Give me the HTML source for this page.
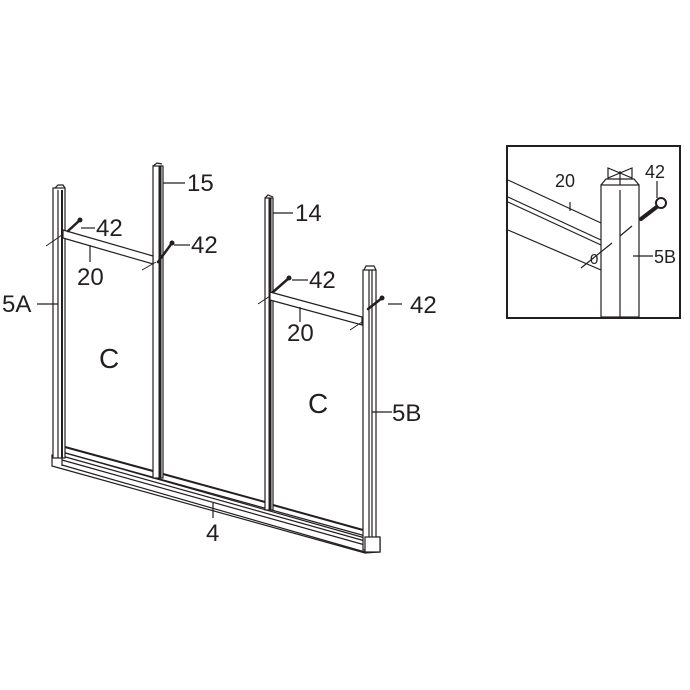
<!DOCTYPE html>
<html><head><meta charset="utf-8"><style>
html,body{margin:0;padding:0;background:#fff}
svg{display:block}
text{font-family:"Liberation Sans",Arial,sans-serif;fill:#231f20}
</style></head><body>
<svg width="690" height="690" viewBox="0 0 690 690" xmlns="http://www.w3.org/2000/svg" stroke="#231f20" fill="none" stroke-width="1.2">
<polygon points="52,455 62,452 380,540 380,552 365,553 52,466" fill="#fff"/>
<line x1="62" y1="452" x2="365" y2="538"/>
<line x1="62" y1="456" x2="365" y2="541"/>
<line x1="62" y1="460" x2="365" y2="545"/>
<line x1="62" y1="465" x2="365" y2="552"/>
<line x1="62" y1="452" x2="62" y2="466"/>
<rect x="365" y="537" width="15" height="15" fill="#fff"/>
<line x1="65" y1="447" x2="153" y2="471" stroke-width="2"/>
<line x1="163" y1="474" x2="265" y2="502" stroke-width="2"/>
<line x1="273" y1="505" x2="363" y2="530" stroke-width="2"/>
<rect x="53" y="188" width="12" height="270" fill="#fff"/>
<line x1="58" y1="190" x2="58" y2="458"/>
<line x1="62" y1="190" x2="62" y2="458" stroke-width="2"/>
<path d="M55,188 l3,-3 l5,0 l2,3" />
<rect x="153" y="166" width="10" height="312" fill="#fff"/>
<line x1="160" y1="166" x2="160" y2="478" stroke-width="3"/>
<path d="M153,166 l4,-3 l5,1"/>
<rect x="265" y="198" width="8" height="312" fill="#fff"/>
<line x1="270" y1="198" x2="270" y2="510" stroke-width="3"/>
<path d="M265,198 l3,-3 l5,2"/>
<rect x="363" y="270" width="13" height="280" fill="#fff"/>
<line x1="369" y1="270" x2="369" y2="550"/>
<line x1="372" y1="270" x2="372" y2="550"/>
<path d="M364,270 l2,-4 l8,0 l2,4"/>
<rect x="365" y="537" width="15" height="15" fill="#fff"/>
<polygon points="63,230 153,256 153,264 63,238" fill="#fff"/>
<polygon points="270,292 362,317 362,325 270,300" fill="#fff"/>
<g stroke-width="2.5" stroke-linecap="round">
<line x1="68" y1="231" x2="80" y2="220"/>
<line x1="158" y1="262" x2="172" y2="243"/>
<line x1="273" y1="292" x2="289" y2="278"/>
<line x1="368" y1="309" x2="382" y2="298"/>
</g>
<g fill="#231f20" stroke="none">
<circle cx="80" cy="220" r="2.5"/><circle cx="172" cy="243" r="2.5"/>
<circle cx="289" cy="278" r="2.5"/><circle cx="382" cy="298" r="2.5"/>
</g>
<g stroke-width="1">
<line x1="46" y1="246" x2="62" y2="235"/>
<line x1="142" y1="270" x2="156" y2="262"/>
<line x1="258" y1="304" x2="270" y2="296"/>
<line x1="350" y1="330" x2="362" y2="322"/>
</g>
<line x1="81" y1="228" x2="95" y2="228"/>
<line x1="174" y1="245" x2="190" y2="245"/>
<line x1="292" y1="280" x2="308" y2="280"/>
<line x1="388" y1="304" x2="402" y2="304"/>
<line x1="163" y1="183" x2="185" y2="183"/>
<line x1="273" y1="213" x2="293" y2="213"/>
<line x1="90" y1="245" x2="90" y2="262"/>
<line x1="300" y1="307" x2="300" y2="322"/>
<line x1="37" y1="304" x2="58" y2="304"/>
<line x1="372" y1="412" x2="392" y2="412"/>
<line x1="213" y1="503" x2="213" y2="518"/>
<g font-size="24" stroke="none" fill="#231f20">
<text x="96" y="236">42</text>
<text x="191" y="253">42</text>
<text x="309" y="288">42</text>
<text x="410" y="313">42</text>
<text x="187" y="191">15</text>
<text x="295" y="221">14</text>
<text x="77" y="285">20</text>
<text x="287" y="341">20</text>
<text x="2" y="312">5A</text>
<text x="392" y="421">5B</text>
<text x="206" y="541">4</text>
<text x="99" y="368" font-size="28">C</text>
<text x="308" y="413" font-size="28">C</text>
</g>
<rect x="507" y="146" width="173" height="172" stroke-width="2"/>
<g stroke-width="1.2">
<line x1="508" y1="180" x2="601" y2="223"/>
<line x1="508" y1="197" x2="601" y2="240"/>
<line x1="508" y1="202" x2="601" y2="245"/>
<line x1="508" y1="230" x2="601" y2="270"/>
<rect x="601" y="185" width="38" height="132" fill="#fff"/>
<line x1="620" y1="190" x2="620" y2="317"/>
<path d="M601,185 l5,-6 l28,0 l5,6"/>
<path d="M608,178 l0,-10 l24,10 l0,-10 z"/>
<line x1="620" y1="171" x2="620" y2="185"/>
<line x1="570" y1="202" x2="570" y2="211"/>
<line x1="581" y1="268" x2="612" y2="243"/>
<line x1="620" y1="236" x2="632" y2="226"/>
<line x1="633" y1="256" x2="653" y2="256"/>
<line x1="657" y1="181" x2="657" y2="198"/>
</g>
<line x1="641" y1="219" x2="658" y2="206" stroke-width="4" stroke-linecap="round"/>
<circle cx="661" cy="203" r="5" fill="#fff" stroke-width="2"/>
<g font-size="18" stroke="none" fill="#231f20">
<text x="555" y="187">20</text>
<text x="645" y="178">42</text>
<text x="590" y="264" font-size="15">0</text>
<text x="654" y="263">5B</text>
</g>
</svg>
</body></html>
